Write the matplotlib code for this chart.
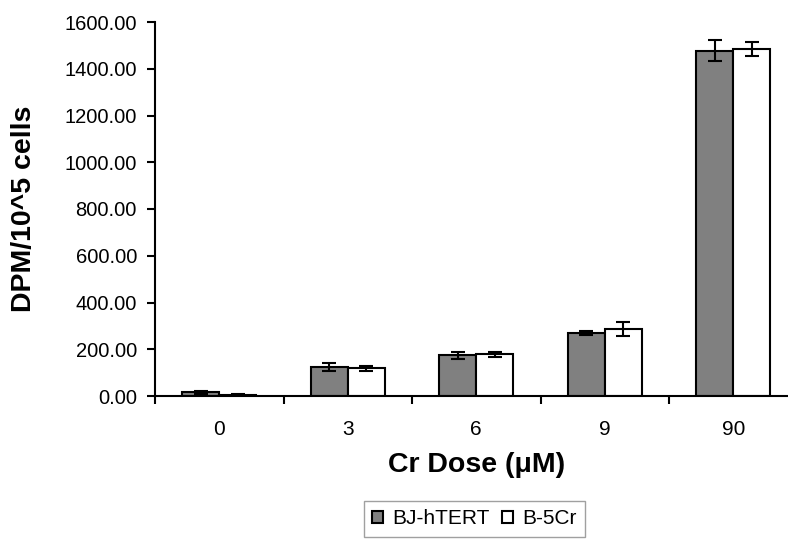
import numpy as np
import matplotlib.pyplot as plt

plt.rcParams['font.family'] = ['Liberation Sans', 'DejaVu Sans']

# data
doses = ['0', '3', '6', '9', '90']
bj_htert = [15, 125, 175, 268, 1478]
bj_htert_err = [6, 17, 15, 8, 45]
b5cr = [5, 118, 178, 285, 1485]
b5cr_err = [2, 12, 12, 30, 30]

fig = plt.figure(figsize=(7.88, 5.42), dpi=100)
ax = fig.add_axes([155/788, 146/542, 642.5/788, 374/542])

x = np.arange(len(doses))
w = 0.286
ax.bar(x - w/2, bj_htert, w, color='#808080', edgecolor='black', linewidth=1.5,
       label='BJ-hTERT', zorder=2)
ax.bar(x + w/2, b5cr, w, color='white', edgecolor='black', linewidth=1.5,
       label='B-5Cr', zorder=2)
ax.errorbar(x - w/2, bj_htert, yerr=bj_htert_err, fmt='none', ecolor='black',
            elinewidth=1.5, capsize=5, capthick=1.5, zorder=3)
ax.errorbar(x + w/2, b5cr, yerr=b5cr_err, fmt='none', ecolor='black',
            elinewidth=1.5, capsize=5, capthick=1.5, zorder=3)

ax.set_xlim(-0.5, len(doses) - 0.5)
ax.set_ylim(0, 1600)
ax.set_yticks(np.arange(0, 1601, 200))
ax.set_yticklabels(['%.2f' % v for v in np.arange(0, 1601, 200)], fontsize=14.5)

# category ticks at boundaries, labels centred
ax.set_xticks(x)
ax.set_xticklabels(doses, fontsize=15)
ax.tick_params(axis='x', which='major', length=0, pad=17)
ax.set_xticks(np.arange(-0.5, len(doses), 1.0), minor=True)
ax.tick_params(axis='x', which='minor', length=6, width=1.5, direction='out')
ax.tick_params(axis='y', length=6, width=1.5, direction='out', pad=7)

for s in ['top', 'right']:
    ax.spines[s].set_visible(False)
for s in ['left', 'bottom']:
    ax.spines[s].set_linewidth(1.5)

ax.set_xlabel('Cr Dose (\u03bcM)', fontsize=20.5, fontweight='bold', labelpad=10)
ax.set_ylabel('DPM/10^5 cells', fontsize=20.5, fontweight='bold', labelpad=20)

leg = fig.legend(loc='upper left', bbox_to_anchor=(364/788, 1 - 501/542), ncol=2,
                 fontsize=15, frameon=True, fancybox=False, edgecolor='#888888',
                 handlelength=0.53, handleheight=0.53, handletextpad=0.43,
                 columnspacing=0.6, borderpad=0.4, borderaxespad=0)
leg.get_frame().set_linewidth(1.0)

fig.savefig('out.png', dpi=100)
